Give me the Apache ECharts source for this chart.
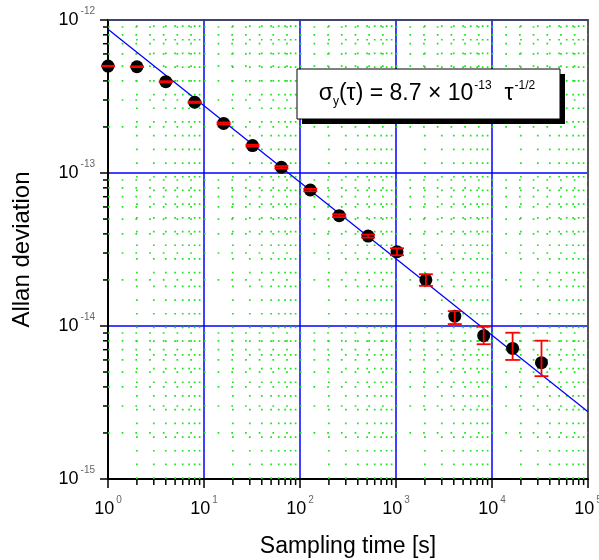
<!DOCTYPE html>
<html>
<head>
<meta charset="utf-8">
<script src="https://cdn.jsdelivr.net/npm/echarts@6/dist/echarts.min.js"></script>
<style>
html,body{margin:0;padding:0;background:#fff;}
#chart{width:599px;height:560px;}
</style>
</head>
<body>
<div id="chart"></div>
<script>
// ---- data ----
const tau = [1, 2, 4, 8, 16, 32, 64, 128, 256, 512, 1024, 2048, 4096, 8192, 16384, 32768];
const adev = [5.0e-13, 4.95e-13, 3.95e-13, 2.9e-13, 2.11e-13, 1.51e-13, 1.09e-13, 7.74e-14, 5.26e-14, 3.87e-14, 3.06e-14, 2.0e-14, 1.16e-14, 8.65e-15, 7.14e-15, 5.76e-15];
const errLow = [4.98e-13, 4.92e-13, 3.92e-13, 2.87e-13, 2.08e-13, 1.49e-13, 1.07e-13, 7.6e-14, 5.15e-14, 3.78e-14, 2.9e-14, 1.83e-14, 1.03e-14, 7.6e-15, 6.0e-15, 4.7e-15];
const errHigh = [5.02e-13, 4.98e-13, 3.98e-13, 2.93e-13, 2.14e-13, 1.53e-13, 1.11e-13, 7.88e-14, 5.37e-14, 3.96e-14, 3.22e-14, 2.18e-14, 1.25e-14, 9.9e-15, 9.04e-15, 8.02e-15];
const fitX = [1, 100000];
const fitY = [8.7e-13, 2.75e-15];
const xTickExponents = [0, 1, 2, 3, 4, 5];
const yTickExponents = [-15, -14, -13, -12];
const minorMultipliers = [2, 3, 4, 5, 6, 7, 8, 9];
const xMin = 1, xMax = 100000, yMin = 1e-15, yMax = 1e-12;

// minor tick positions (axis structure)
const xMinor = [];
for (let e = 0; e < 5; e++) minorMultipliers.forEach(m => xMinor.push([m * Math.pow(10, e), yMin]));
const yMinor = [];
for (let e = -15; e < -12; e++) minorMultipliers.forEach(m => yMinor.push([xMin, m * Math.pow(10, e)]));

const FONT = '"Liberation Sans", Arial, sans-serif';
const GREEN = '#19e619';

function expLabel(list) {
  return function (v) {
    const e = Math.round(Math.log10(v));
    if (list.indexOf(e) < 0) return '';
    return '{b|10}{s|' + e + '}';
  };
}
const labelRich = {
  b: { fontSize: 18, fontFamily: FONT, color: '#000' },
  s: { fontSize: 10, fontFamily: FONT, color: '#666', lineHeight: 10, padding: [0, 0, 18, 2] }
};

const chart = echarts.init(document.getElementById('chart'));
chart.setOption({
  animation: false,
  grid: { left: 108, right: 11, top: 20, bottom: 81, outerBoundsMode: 'none', containLabel: false },
  xAxis: [{
    type: 'log', logBase: 10, min: xMin, max: xMax,
    name: 'Sampling time [s]', nameLocation: 'middle', nameGap: 56,
    nameTextStyle: { fontSize: 23, fontFamily: FONT, color: '#000' },
    axisLine: { lineStyle: { color: '#000', width: 2 } },
    axisTick: { length: 9, lineStyle: { color: '#000', width: 1.5 } },
    axisLabel: { margin: 21, formatter: expLabel(xTickExponents), rich: labelRich },
    splitLine: { show: true, showMinLine: false, showMaxLine: false, lineStyle: { color: '#0000ff', width: 1.5 } }
  }, {
    type: 'log', logBase: 10, min: xMin, max: xMax, position: 'top',
    axisLine: { lineStyle: { color: '#444', width: 1.5 } },
    axisTick: { show: false }, axisLabel: { show: false }, splitLine: { show: false }
  }],
  yAxis: [{
    type: 'log', logBase: 10, min: yMin, max: yMax,
    name: 'Allan deviation', nameLocation: 'middle', nameGap: 74, nameRotate: 90,
    nameTextStyle: { fontSize: 24, fontFamily: FONT, color: '#000' },
    axisLine: { lineStyle: { color: '#000', width: 2 } },
    axisTick: { length: 8, lineStyle: { color: '#000', width: 1.5 } },
    axisLabel: { margin: 13, formatter: expLabel(yTickExponents), rich: labelRich },
    splitLine: { show: true, showMinLine: false, showMaxLine: false, lineStyle: { color: '#0000ff', width: 1.5 } }
  }, {
    type: 'log', logBase: 10, min: yMin, max: yMax, position: 'right',
    axisLine: { lineStyle: { color: '#555', width: 2 } },
    axisTick: { show: false }, axisLabel: { show: false }, splitLine: { show: false }
  }],
  series: [
    {
      type: 'custom', name: 'xminor', data: xMinor, z: 1, silent: true,
      renderItem: function (params, api) {
        const v = api.value(0);
        const b = api.coord([v, yMin]);
        const t = api.coord([v, yMax]);
        return { type: 'group', children: [
          { type: 'line', shape: { x1: b[0], y1: b[1], x2: t[0], y2: t[1] }, style: { stroke: GREEN, lineWidth: 1.7, lineDash: [1.7, 12] } },
          { type: 'line', shape: { x1: b[0], y1: b[1], x2: b[0], y2: b[1] + 6 }, style: { stroke: '#000', lineWidth: 1.5 } }
        ]};
      }
    },
    {
      type: 'custom', name: 'yminor', data: yMinor, z: 1, silent: true,
      renderItem: function (params, api) {
        const v = api.value(1);
        const l = api.coord([xMin, v]);
        const r = api.coord([xMax, v]);
        return { type: 'group', children: [
          { type: 'line', shape: { x1: l[0], y1: l[1], x2: r[0], y2: r[1] }, style: { stroke: GREEN, lineWidth: 1.7, lineDash: [1.7, 12] } },
          { type: 'line', shape: { x1: l[0], y1: l[1], x2: l[0] - 5, y2: l[1] }, style: { stroke: '#000', lineWidth: 1.5 } }
        ]};
      }
    },
    {
      type: 'line', name: 'fit', data: fitX.map((x, i) => [x, fitY[i]]), showSymbol: false, symbol: 'none',
      lineStyle: { color: '#0000ff', width: 1.3 }, z: 3, silent: true
    },
    {
      type: 'scatter', name: 'adev', data: tau.map((t, i) => [t, adev[i]]),
      symbol: 'circle', symbolSize: 13, itemStyle: { color: '#000', opacity: 1 }, z: 4
    },
    {
      type: 'custom', name: 'err', z: 5, silent: true,
      data: tau.map((t, i) => [t, errLow[i], errHigh[i]]),
      renderItem: function (params, api) {
        const x = api.value(0);
        const lo = api.coord([x, api.value(1)]);
        const hi = api.coord([x, api.value(2)]);
        const w = 7;
        const st = { stroke: '#ff0000', lineWidth: 1.8 };
        return { type: 'group', children: [
          { type: 'line', shape: { x1: lo[0], y1: lo[1], x2: hi[0], y2: hi[1] }, style: st },
          { type: 'line', shape: { x1: lo[0] - w, y1: lo[1], x2: lo[0] + w, y2: lo[1] }, style: st },
          { type: 'line', shape: { x1: hi[0] - w, y1: hi[1], x2: hi[0] + w, y2: hi[1] }, style: st }
        ]};
      }
    }
  ],
  graphic: [
    { type: 'rect', z: 100, shape: { x: 302, y: 74, width: 263, height: 50 }, style: { fill: '#000' } },
    { type: 'rect', z: 101, shape: { x: 297, y: 69, width: 263, height: 50 }, style: { fill: '#fff', stroke: '#000', lineWidth: 1 } },
    { type: 'text', z: 102, x: 427, y: 94,
      style: {
        text: '{m|σ}{sub|y}{m|(τ) = 8.7 × 10}{sup|-13}{m|  τ}{sup|-1/2}',
        align: 'center', verticalAlign: 'middle',
        rich: {
          m: { fontSize: 23, fontFamily: FONT, fill: '#000' },
          sub: { fontSize: 12, fontFamily: FONT, fill: '#000', lineHeight: 12, padding: [15, 0, 0, 0] },
          sup: { fontSize: 12, fontFamily: FONT, fill: '#000', lineHeight: 12, padding: [0, 0, 16, 1] }
        }
      }
    }
  ]
});
</script>
</body>
</html>
